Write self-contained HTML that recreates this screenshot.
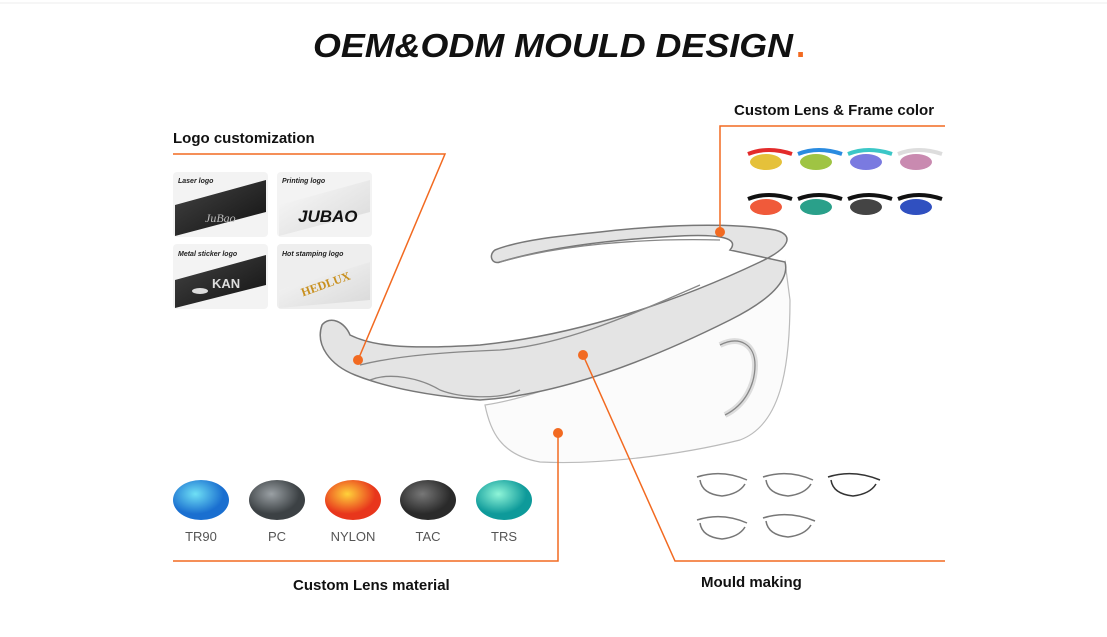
<!DOCTYPE html>
<html><head><style>
body{margin:0;background:#fff;}
svg{display:block;font-family:"Liberation Sans",sans-serif;}
</style></head><body>
<svg width="1107" height="637" viewBox="0 0 1107 637" xmlns="http://www.w3.org/2000/svg">
<defs>
<radialGradient id="g1" cx="40%" cy="35%"><stop offset="0" stop-color="#6fe0f5"/><stop offset="1" stop-color="#1a6fd0"/></radialGradient>
<radialGradient id="g2" cx="40%" cy="35%"><stop offset="0" stop-color="#9aa0a4"/><stop offset="1" stop-color="#3c4144"/></radialGradient>
<radialGradient id="g3" cx="40%" cy="35%"><stop offset="0" stop-color="#ffd23a"/><stop offset="1" stop-color="#e8361c"/></radialGradient>
<radialGradient id="g4" cx="40%" cy="35%"><stop offset="0" stop-color="#777"/><stop offset="1" stop-color="#2a2a2a"/></radialGradient>
<radialGradient id="g5" cx="40%" cy="35%"><stop offset="0" stop-color="#8ff5d8"/><stop offset="1" stop-color="#0e9a9a"/></radialGradient>
<linearGradient id="bk" x1="0" y1="0" x2="1" y2="1"><stop offset="0" stop-color="#444"/><stop offset="1" stop-color="#111"/></linearGradient>
<linearGradient id="wh" x1="0" y1="0" x2="1" y2="1"><stop offset="0" stop-color="#fafafa"/><stop offset="1" stop-color="#d8d8d8"/></linearGradient>
</defs>
<rect width="1107" height="637" fill="#fff"/>
<line x1="0" y1="3" x2="1107" y2="3" stroke="#eee"/>
<text x="313" y="57" font-size="33" font-weight="bold" font-style="italic" fill="#111" textLength="480" lengthAdjust="spacingAndGlyphs">OEM&amp;ODM MOULD DESIGN</text>
<text x="796" y="57" font-size="33" font-weight="bold" fill="#f26a21">.</text>

<!-- glasses sketch -->
<path d="M485 405 C490 430 500 455 540 462 C600 465 680 455 740 440 C780 425 790 370 790 300 L785 262 C770 300 680 345 600 370 C560 385 520 400 485 405 Z" fill="#fbfbfb" stroke="#bbb" stroke-width="1.2"/>
<path d="M322 325 C330 315 345 322 350 335 C370 345 400 350 480 345 C580 335 680 300 760 262 C790 248 795 235 775 230 C730 222 660 225 600 232 C560 236 520 240 495 250 C488 255 492 265 500 262 C540 250 600 240 680 236 C720 234 740 238 730 250 L785 262 C790 280 770 300 730 320 C650 360 560 395 480 400 C420 395 380 385 355 375 C330 365 315 345 322 325 Z" fill="#e4e4e4" stroke="#777" stroke-width="1.5"/>
<g fill="none" stroke="#888" stroke-width="1.3">
<path d="M720 345 C740 335 755 345 755 365 C755 385 745 405 725 415" stroke-width="6" stroke="#ddd"/>
<path d="M720 345 C740 335 755 345 755 365 C755 385 745 405 725 415"/>
<path d="M370 380 C390 372 420 378 440 390 C460 398 500 400 520 390"/>
<path d="M360 365 C400 355 450 352 500 350 C560 345 620 320 700 285"/>
<path d="M500 262 C560 245 640 238 720 240" />
</g>

<!-- connector lines -->
<g stroke="#f26a21" stroke-width="1.5" fill="none">
<polyline points="173,154 445,154 358,360"/>
<polyline points="720,232 720,126 945,126"/>
<polyline points="583,355 675,561 945,561"/>
<polyline points="558,433 558,561 173,561"/>
</g>
<g fill="#f26a21"><circle cx="358" cy="360" r="5"/><circle cx="720" cy="232" r="5"/><circle cx="583" cy="355" r="5"/><circle cx="558" cy="433" r="5"/></g>

<text x="173" y="143" font-size="15" font-weight="bold" fill="#111">Logo customization</text>
<text x="734" y="115" font-size="15" font-weight="bold" fill="#111">Custom Lens &amp; Frame color</text>
<text x="293" y="590" font-size="15" font-weight="bold" fill="#111">Custom Lens material</text>
<text x="701" y="587" font-size="15" font-weight="bold" fill="#111">Mould making</text>

<!-- logo tiles -->
<g>
<rect x="173" y="172" width="95" height="65" rx="4" fill="#f3f3f3"/>
<path d="M175 205 L266 180 L266 212 L175 236 Z" fill="url(#bk)"/>
<text x="178" y="183" font-size="7" font-weight="bold" font-style="italic" fill="#222">Laser logo</text>
<text x="205" y="222" font-size="12" font-style="italic" fill="#bbb" font-family="Liberation Serif">JuBao</text>
<rect x="277" y="172" width="95" height="65" rx="4" fill="#f3f3f3"/>
<path d="M279 205 L370 180 L370 212 L279 236 Z" fill="url(#wh)"/>
<text x="282" y="183" font-size="7" font-weight="bold" font-style="italic" fill="#222">Printing logo</text>
<text x="298" y="222" font-size="17" font-weight="bold" font-style="italic" fill="#111">JUBAO</text>
<rect x="173" y="244" width="95" height="65" rx="4" fill="#f3f3f3"/>
<path d="M175 280 L266 255 L266 285 L175 308 Z" fill="url(#bk)"/>
<text x="178" y="256" font-size="7" font-weight="bold" font-style="italic" fill="#222">Metal sticker logo</text>
<text x="212" y="288" font-size="13" font-weight="bold" fill="#ddd">KAN</text>
<ellipse cx="200" cy="291" rx="8" ry="3" fill="#ddd"/>
<rect x="277" y="244" width="95" height="65" rx="4" fill="#eee"/>
<path d="M279 290 L370 262 L370 300 L279 308 Z" fill="url(#wh)"/>
<text x="282" y="256" font-size="7" font-weight="bold" font-style="italic" fill="#222">Hot stamping logo</text>
<text x="300" y="290" font-size="12" font-weight="bold" fill="#c8901f" transform="rotate(-20 320 285)" font-family="Liberation Serif">HEDLUX</text>
</g>

<!-- color glasses -->
<g stroke-width="4" fill="none">
<g transform="translate(748,148)"><path d="M0 6 Q20 -2 44 6" stroke="#e32b2b"/><ellipse cx="18" cy="14" rx="16" ry="8" fill="#e5c13a" stroke="none"/></g>
<g transform="translate(798,148)"><path d="M0 6 Q20 -2 44 6" stroke="#2a8be0"/><ellipse cx="18" cy="14" rx="16" ry="8" fill="#9fc443" stroke="none"/></g>
<g transform="translate(848,148)"><path d="M0 6 Q20 -2 44 6" stroke="#3cc7c7"/><ellipse cx="18" cy="14" rx="16" ry="8" fill="#7a7ae0" stroke="none"/></g>
<g transform="translate(898,148)"><path d="M0 6 Q20 -2 44 6" stroke="#ddd"/><ellipse cx="18" cy="14" rx="16" ry="8" fill="#c98ab0" stroke="none"/></g>
<g transform="translate(748,193)"><path d="M0 6 Q20 -2 44 6" stroke="#111"/><ellipse cx="18" cy="14" rx="16" ry="8" fill="#f05a3a" stroke="none"/></g>
<g transform="translate(798,193)"><path d="M0 6 Q20 -2 44 6" stroke="#111"/><ellipse cx="18" cy="14" rx="16" ry="8" fill="#2aa08a" stroke="none"/></g>
<g transform="translate(848,193)"><path d="M0 6 Q20 -2 44 6" stroke="#111"/><ellipse cx="18" cy="14" rx="16" ry="8" fill="#444" stroke="none"/></g>
<g transform="translate(898,193)"><path d="M0 6 Q20 -2 44 6" stroke="#111"/><ellipse cx="18" cy="14" rx="16" ry="8" fill="#3050c0" stroke="none"/></g>
</g>

<!-- lens materials -->
<ellipse cx="201" cy="500" rx="28" ry="20" fill="url(#g1)"/>
<ellipse cx="277" cy="500" rx="28" ry="20" fill="url(#g2)"/>
<ellipse cx="353" cy="500" rx="28" ry="20" fill="url(#g3)"/>
<ellipse cx="428" cy="500" rx="28" ry="20" fill="url(#g4)"/>
<ellipse cx="504" cy="500" rx="28" ry="20" fill="url(#g5)"/>
<g font-size="13" fill="#555" text-anchor="middle">
<text x="201" y="541">TR90</text><text x="277" y="541">PC</text><text x="353" y="541">NYLON</text><text x="428" y="541">TAC</text><text x="504" y="541">TRS</text>
</g>

<!-- mould sketches -->
<g fill="none" stroke="#777" stroke-width="1.5">
<g transform="translate(697,472)"><path d="M0 5 Q25 -3 50 8"/><path d="M3 8 Q5 22 25 24 Q42 22 48 12"/></g>
<g transform="translate(763,472)"><path d="M0 5 Q25 -3 50 8"/><path d="M3 8 Q5 22 25 24 Q42 22 48 12"/></g>
<g transform="translate(828,472)" stroke="#333"><path d="M0 5 Q25 -3 52 8"/><path d="M3 8 Q5 22 25 24 Q42 22 48 12"/></g>
<g transform="translate(697,515)"><path d="M0 5 Q25 -3 50 8"/><path d="M3 8 Q5 22 25 24 Q42 22 48 12"/></g>
<g transform="translate(763,513)"><path d="M0 5 Q25 -3 52 8"/><path d="M3 8 Q5 22 25 24 Q42 22 48 12"/></g>
</g>
</svg>
</body></html>
